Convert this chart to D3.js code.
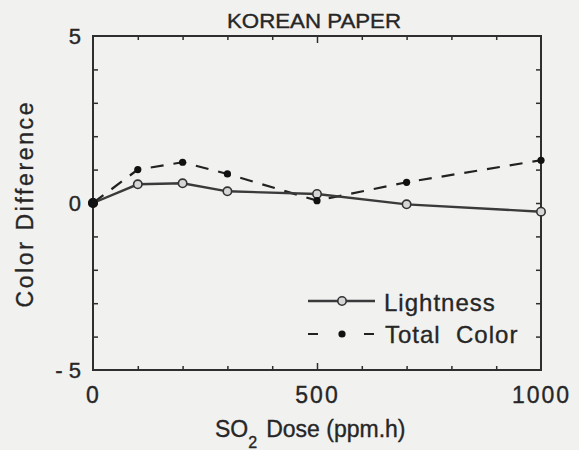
<!DOCTYPE html>
<html>
<head>
<meta charset="utf-8">
<script src="https://cdn.jsdelivr.net/npm/d3@7"></script>
<style>
  html, body { margin: 0; padding: 0; background: #f1f1f0; }
  svg { display: block; }
  text { font-family: "Liberation Sans", Arial, sans-serif; fill: #262626; stroke: #262626; stroke-width: 0.35px; }
</style>
</head>
<body>
<svg id="chart" width="579" height="450"></svg>
<script>
// SO2 dose (ppm.h) and the measured colour differences of Korean paper
const doses = [0, 100, 200, 300, 500, 700, 1000];
const lightness = [0, 0.56, 0.59, 0.35, 0.27, -0.04, -0.26];
const totalColor = [0, 1.0, 1.22, 0.87, 0.07, 0.62, 1.28];

const xTicks = [0, 100, 200, 300, 400, 500, 600, 700, 800, 900, 1000];
const xTickLabels = [0, 500, 1000];
const yTicks = [-5, -4, -3, -2, -1, 0, 1, 2, 3, 4, 5];
const yTickLabels = [-5, 0, 5];

const svg = d3.select("#chart");
const x = d3.scaleLinear().domain([0, 1000]).range([93, 541]);
const y = d3.scaleLinear().domain([-5, 5]).range([370, 36]);

const ink = "#2e2e2e";

// inward tick marks on all four sides
function tickAxis(axis, transform) {
  const g = svg.append("g").attr("transform", transform).call(axis);
  g.select(".domain").remove();
  g.selectAll(".tick line").attr("stroke", ink).attr("stroke-width", 1.5);
  g.selectAll(".tick text").remove();
  return g;
}
const xTickSize = d => (d === 500 ? -7 : -4);
[["bottom", y(-5), 1], ["top", y(5), -1]].forEach(([side, ty, dir]) => {
  const ax = (side === "bottom" ? d3.axisBottom(x) : d3.axisTop(x)).tickValues(xTicks.slice(1, -1)).tickSize(0);
  const g = tickAxis(ax, `translate(0,${ty})`);
  g.selectAll(".tick line").attr("y2", d => dir * xTickSize(d));
});
tickAxis(d3.axisLeft(y).tickValues(yTicks.slice(1, -1)).tickSize(-5), `translate(${x(0)},0)`);
tickAxis(d3.axisRight(y).tickValues(yTicks.slice(1, -1)).tickSize(-5), `translate(${x(1000)},0)`);

// frame
svg.append("rect")
  .attr("x", x(0)).attr("y", y(5))
  .attr("width", x(1000) - x(0)).attr("height", y(-5) - y(5))
  .attr("fill", "none").attr("stroke", ink).attr("stroke-width", 2);

// tick labels
const xLab = svg.append("g").attr("transform", `translate(0,${y(-5)})`)
  .call(d3.axisBottom(x).tickValues(xTickLabels).tickSize(0).tickPadding(0).tickFormat(d3.format("d")));
xLab.select(".domain").remove();
xLab.selectAll(".tick text")
  .attr("y", 33).attr("dy", null)
  .attr("font-size", 23).attr("letter-spacing", 2).attr("fill", "#262626");

const yLab = svg.append("g").attr("transform", `translate(${x(0)},0)`)
  .call(d3.axisLeft(y).tickValues(yTickLabels).tickSize(0).tickPadding(12)
    .tickFormat(d => d < 0 ? "- " + Math.abs(d) : d));
yLab.select(".domain").remove();
yLab.selectAll(".tick text")
  .attr("font-size", 22).attr("dy", "0.36em").attr("fill", "#262626");

// title
svg.append("text")
  .attr("x", 314).attr("y", 28)
  .attr("text-anchor", "middle")
  .attr("font-size", 20)
  .attr("textLength", 174).attr("lengthAdjust", "spacingAndGlyphs")
  .text("KOREAN PAPER");

// x axis title with subscript
const xt = svg.append("text")
  .attr("x", 215).attr("y", 437)
  .attr("font-size", 23);
xt.append("tspan").text("SO");
xt.append("tspan").attr("font-size", 16).attr("dy", 11).text("2");
xt.append("tspan").attr("dy", -11).attr("dx", 9).text("Dose (ppm.h)");

// y axis title
svg.append("text")
  .attr("transform", "translate(33,205) rotate(-90)")
  .attr("text-anchor", "middle")
  .attr("font-size", 23)
  .attr("textLength", 205).attr("lengthAdjust", "spacing")
  .text("Color  Difference");

// series
const lightPts = doses.map((d, i) => [d, lightness[i]]);
const totalPts = doses.map((d, i) => [d, totalColor[i]]);
const line = d3.line().x(d => x(d[0])).y(d => y(d[1]));

svg.append("path").datum(totalPts)
  .attr("d", line)
  .attr("fill", "none").attr("stroke", "#222").attr("stroke-width", 2.2)
  .attr("stroke-dasharray", "13,10");

svg.append("path").datum(lightPts)
  .attr("d", line)
  .attr("fill", "none").attr("stroke", "#3a3a3a").attr("stroke-width", 2.4);

svg.selectAll(".light-pt").data(lightPts).enter().append("circle")
  .attr("class", "light-pt")
  .attr("cx", d => x(d[0])).attr("cy", d => y(d[1])).attr("r", 4.2)
  .attr("fill", "#d6d6d6").attr("stroke", "#333").attr("stroke-width", 1.6);

svg.selectAll(".total-pt").data(totalPts).enter().append("circle")
  .attr("class", "total-pt")
  .attr("cx", d => x(d[0])).attr("cy", d => y(d[1])).attr("r", d => d[0] === 0 ? 5 : 3.6)
  .attr("fill", "#111");

// legend
const leg = svg.append("g");
leg.append("line").attr("x1", 308).attr("x2", 375).attr("y1", 301).attr("y2", 301)
  .attr("stroke", "#3a3a3a").attr("stroke-width", 2.4);
leg.append("circle").attr("cx", 342).attr("cy", 301).attr("r", 4.2)
  .attr("fill", "#d6d6d6").attr("stroke", "#333").attr("stroke-width", 1.6);
leg.append("text").attr("x", 384).attr("y", 311).attr("font-size", 24)
  .attr("letter-spacing", 1).text("Lightness");

leg.append("line").attr("x1", 308).attr("x2", 375).attr("y1", 334).attr("y2", 334)
  .attr("stroke", "#222").attr("stroke-width", 2.2).attr("stroke-dasharray", "10,23,0,23,10");
leg.append("circle").attr("cx", 342).attr("cy", 334).attr("r", 3.6).attr("fill", "#111");
leg.append("text").attr("x", 385).attr("y", 343).attr("font-size", 24)
  .attr("letter-spacing", 1).attr("xml:space", "preserve").text("Total  Color");
</script>
</body>
</html>
